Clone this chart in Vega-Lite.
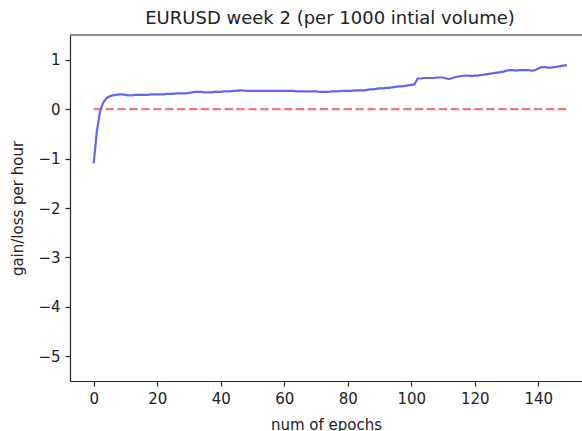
{
  "$schema": "https://vega.github.io/schema/vega-lite/v6.json",
  "width": 512,
  "height": 346,
  "autosize": "none",
  "padding": {"left": 70, "top": 35, "right": 0, "bottom": 50},
  "background": "white",
  "config": {
    "view": {"stroke": null},
    "font": "DejaVu Sans",
    "axis": {
      "grid": false,
      "domainColor": "#262626",
      "domainWidth": 1.2,
      "tickColor": "#262626",
      "tickWidth": 1.2,
      "tickSize": 5,
      "labelPadding": 5,
      "labelFont": "DejaVu Sans",
      "labelFontSize": 15,
      "labelColor": "#222222",
      "titleFont": "DejaVu Sans",
      "titleFontSize": 15,
      "titleFontWeight": "normal",
      "titleColor": "#222222"
    }
  },
  "title": {
    "text": "EURUSD week 2 (per 1000 intial volume)",
    "font": "DejaVu Sans",
    "fontSize": 18,
    "fontWeight": "normal",
    "color": "#222222",
    "anchor": "middle",
    "dx": 4,
    "offset": 6
  },
  "datasets": {
    "gain": [
      {"epoch": 0, "value": -1.10}, {"epoch": 1, "value": -0.45}, {"epoch": 2, "value": -0.05}, {"epoch": 3, "value": 0.13},
      {"epoch": 4, "value": 0.22}, {"epoch": 5, "value": 0.26}, {"epoch": 6, "value": 0.28}, {"epoch": 7, "value": 0.29},
      {"epoch": 8, "value": 0.30}, {"epoch": 9, "value": 0.30}, {"epoch": 10, "value": 0.29}, {"epoch": 11, "value": 0.28},
      {"epoch": 12, "value": 0.28}, {"epoch": 13, "value": 0.29}, {"epoch": 14, "value": 0.29}, {"epoch": 15, "value": 0.29},
      {"epoch": 16, "value": 0.29}, {"epoch": 17, "value": 0.29}, {"epoch": 18, "value": 0.30}, {"epoch": 19, "value": 0.30},
      {"epoch": 20, "value": 0.30}, {"epoch": 21, "value": 0.30}, {"epoch": 22, "value": 0.30}, {"epoch": 23, "value": 0.31},
      {"epoch": 24, "value": 0.31}, {"epoch": 25, "value": 0.31}, {"epoch": 26, "value": 0.32}, {"epoch": 27, "value": 0.32},
      {"epoch": 28, "value": 0.32}, {"epoch": 29, "value": 0.32}, {"epoch": 30, "value": 0.33}, {"epoch": 31, "value": 0.34},
      {"epoch": 32, "value": 0.35}, {"epoch": 33, "value": 0.35}, {"epoch": 34, "value": 0.35}, {"epoch": 35, "value": 0.34},
      {"epoch": 36, "value": 0.34}, {"epoch": 37, "value": 0.34}, {"epoch": 38, "value": 0.35}, {"epoch": 39, "value": 0.35},
      {"epoch": 40, "value": 0.35}, {"epoch": 41, "value": 0.36}, {"epoch": 42, "value": 0.36}, {"epoch": 43, "value": 0.36},
      {"epoch": 44, "value": 0.37}, {"epoch": 45, "value": 0.37}, {"epoch": 46, "value": 0.38}, {"epoch": 47, "value": 0.38},
      {"epoch": 48, "value": 0.37}, {"epoch": 49, "value": 0.37}, {"epoch": 50, "value": 0.37}, {"epoch": 51, "value": 0.37},
      {"epoch": 52, "value": 0.37}, {"epoch": 53, "value": 0.37}, {"epoch": 54, "value": 0.37}, {"epoch": 55, "value": 0.37},
      {"epoch": 56, "value": 0.37}, {"epoch": 57, "value": 0.37}, {"epoch": 58, "value": 0.37}, {"epoch": 59, "value": 0.37},
      {"epoch": 60, "value": 0.37}, {"epoch": 61, "value": 0.37}, {"epoch": 62, "value": 0.37}, {"epoch": 63, "value": 0.37},
      {"epoch": 64, "value": 0.36}, {"epoch": 65, "value": 0.36}, {"epoch": 66, "value": 0.36}, {"epoch": 67, "value": 0.36},
      {"epoch": 68, "value": 0.36}, {"epoch": 69, "value": 0.36}, {"epoch": 70, "value": 0.36}, {"epoch": 71, "value": 0.35},
      {"epoch": 72, "value": 0.35}, {"epoch": 73, "value": 0.35}, {"epoch": 74, "value": 0.35}, {"epoch": 75, "value": 0.36},
      {"epoch": 76, "value": 0.36}, {"epoch": 77, "value": 0.36}, {"epoch": 78, "value": 0.37}, {"epoch": 79, "value": 0.37},
      {"epoch": 80, "value": 0.37}, {"epoch": 81, "value": 0.37}, {"epoch": 82, "value": 0.38}, {"epoch": 83, "value": 0.38},
      {"epoch": 84, "value": 0.38}, {"epoch": 85, "value": 0.38}, {"epoch": 86, "value": 0.39}, {"epoch": 87, "value": 0.40},
      {"epoch": 88, "value": 0.40}, {"epoch": 89, "value": 0.41}, {"epoch": 90, "value": 0.42}, {"epoch": 91, "value": 0.42},
      {"epoch": 92, "value": 0.43}, {"epoch": 93, "value": 0.43}, {"epoch": 94, "value": 0.44}, {"epoch": 95, "value": 0.45},
      {"epoch": 96, "value": 0.46}, {"epoch": 97, "value": 0.46}, {"epoch": 98, "value": 0.47}, {"epoch": 99, "value": 0.48},
      {"epoch": 100, "value": 0.49}, {"epoch": 101, "value": 0.50}, {"epoch": 102, "value": 0.62}, {"epoch": 103, "value": 0.62},
      {"epoch": 104, "value": 0.63}, {"epoch": 105, "value": 0.63}, {"epoch": 106, "value": 0.63}, {"epoch": 107, "value": 0.63},
      {"epoch": 108, "value": 0.64}, {"epoch": 109, "value": 0.64}, {"epoch": 110, "value": 0.64}, {"epoch": 111, "value": 0.62},
      {"epoch": 112, "value": 0.61}, {"epoch": 113, "value": 0.63}, {"epoch": 114, "value": 0.65}, {"epoch": 115, "value": 0.66},
      {"epoch": 116, "value": 0.67}, {"epoch": 117, "value": 0.68}, {"epoch": 118, "value": 0.68}, {"epoch": 119, "value": 0.67},
      {"epoch": 120, "value": 0.68}, {"epoch": 121, "value": 0.68}, {"epoch": 122, "value": 0.69}, {"epoch": 123, "value": 0.70},
      {"epoch": 124, "value": 0.71}, {"epoch": 125, "value": 0.72}, {"epoch": 126, "value": 0.73}, {"epoch": 127, "value": 0.74},
      {"epoch": 128, "value": 0.75}, {"epoch": 129, "value": 0.76}, {"epoch": 130, "value": 0.78}, {"epoch": 131, "value": 0.79},
      {"epoch": 132, "value": 0.79}, {"epoch": 133, "value": 0.78}, {"epoch": 134, "value": 0.79}, {"epoch": 135, "value": 0.79},
      {"epoch": 136, "value": 0.79}, {"epoch": 137, "value": 0.79}, {"epoch": 138, "value": 0.78}, {"epoch": 139, "value": 0.79},
      {"epoch": 140, "value": 0.82}, {"epoch": 141, "value": 0.85}, {"epoch": 142, "value": 0.85}, {"epoch": 143, "value": 0.84},
      {"epoch": 144, "value": 0.84}, {"epoch": 145, "value": 0.85}, {"epoch": 146, "value": 0.86}, {"epoch": 147, "value": 0.87},
      {"epoch": 148, "value": 0.88}, {"epoch": 149, "value": 0.89}
    ],
    "zero": [
      {"epoch": 0, "value": 0},
      {"epoch": 149, "value": 0}
    ],
    "frame": [
      {"top": 1.5}
    ]
  },
  "layer": [
    {
      "data": {"name": "zero"},
      "mark": {"type": "line", "color": "#f07878", "strokeWidth": 2.2, "strokeDash": [8.3, 3.6], "clip": true},
      "encoding": {
        "x": {
          "field": "epoch", "type": "quantitative",
          "scale": {"domain": [-7.45, 153.76], "nice": false, "zero": false},
          "axis": {"values": [0, 20, 40, 60, 80, 100, 120, 140], "title": "num of epochs", "titlePadding": 11}
        },
        "y": {
          "field": "value", "type": "quantitative",
          "scale": {"domain": [-5.5, 1.5], "nice": false},
          "axis": {"values": [-5, -4, -3, -2, -1, 0, 1], "title": "gain/loss per hour", "titlePadding": 12}
        }
      }
    },
    {
      "data": {"name": "gain"},
      "mark": {"type": "line", "color": "#6464ee", "strokeWidth": 2.2, "clip": true},
      "encoding": {
        "x": {"field": "epoch", "type": "quantitative"},
        "y": {"field": "value", "type": "quantitative"}
      }
    },
    {
      "data": {"name": "frame"},
      "mark": {"type": "rule", "color": "#262626", "strokeWidth": 1.2},
      "encoding": {"y": {"field": "top", "type": "quantitative"}}
    }
  ]
}
